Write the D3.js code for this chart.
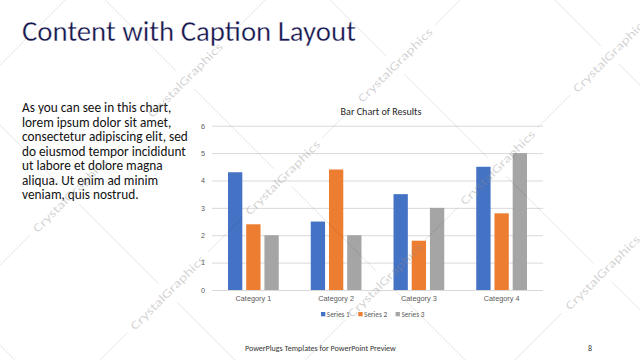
<!DOCTYPE html>
<html>
<head>
<meta charset="utf-8">
<script src="https://cdn.jsdelivr.net/npm/d3@7"></script>
<style>
  html, body { margin: 0; padding: 0; background: #fff; }
  svg { display: block; font-family: Carlito, Lato, "Open Sans", sans-serif; }
</style>
</head>
<body>
<svg id="slide" width="640" height="360"></svg>
<script>
const slideTitle = "Content with Caption Layout";
const captionLines = [
  "As you can see in this chart,",
  "lorem ipsum dolor sit amet,",
  "consectetur adipiscing elit, sed",
  "do eiusmod tempor incididunt",
  "ut labore et dolore magna",
  "aliqua. Ut enim ad minim",
  "veniam, quis nostrud."
];
const chartTitle = "Bar Chart of Results";
const categories = ["Category 1", "Category 2", "Category 3", "Category 4"];
const seriesNames = ["Series 1", "Series 2", "Series 3"];
const series1 = [4.3, 2.5, 3.5, 4.5];
const series2 = [2.4, 4.4, 1.8, 2.8];
const series3 = [2, 2, 3, 5];
const yTicks = [0, 1, 2, 3, 4, 5, 6];
const seriesColors = ["#4472C4", "#ED7D31", "#A5A5A5"];
const footerText = "PowerPlugs Templates for PowerPoint  Preview";
const pageNumber = "8";
const wmText = "CrystalGraphics";

const svg = d3.select("#slide");

// scale font so the text spans the given width
function fitFont(sel, targetWidth) {
  const base = parseFloat(sel.attr("font-size"));
  const w = sel.node().getComputedTextLength();
  const size = base * targetWidth / w;
  sel.attr("font-size", size);
  return size;
}

// ---- slide title (thin white edge to get a light weight look)
const title = svg.append("text")
    .attr("x", 22).attr("y", 41)
    .attr("font-size", 28)
    .attr("font-weight", 300)
    .attr("fill", "#16164f")
    .attr("stroke", "#fff")
    .attr("stroke-width", 0.3)
    .text(slideTitle);
fitFont(title, 334);

// ---- caption text
const caption = svg.append("g");
caption.selectAll("text")
  .data(captionLines)
  .enter()
  .append("text")
    .attr("x", 22)
    .attr("y", (d, i) => 112 + i * 14.5)
    .attr("font-size", 12.5)
    .attr("fill", "#111")
    .text(d => d);
const longest = caption.selectAll("text").filter((d, i) => i === 2);
const capSize = fitFont(longest, 166);
caption.selectAll("text").attr("font-size", capSize);

// ---- chart
const y = d3.scaleLinear().domain([0, 6]).range([290, 125.7]);
const x0 = d3.scaleBand().domain(categories).range([212, 543])
    .paddingInner(0.387).paddingOuter(0.1935);
const x1 = d3.scaleBand().domain(seriesNames).range([0, x0.bandwidth()])
    .paddingInner(0.214);
const colour = d3.scaleOrdinal().domain(seriesNames).range(seriesColors);

const chartG = svg.append("g");

chartG.append("text")
    .attr("class", "ctitle")
    .attr("x", 381).attr("y", 115)
    .attr("text-anchor", "middle")
    .attr("font-size", 12)
    .attr("fill", "#262626")
    .text(chartTitle);
fitFont(chartG.select("text.ctitle"), 81);

const yAxis = chartG.append("g")
    .attr("transform", "translate(212,0)")
    .call(d3.axisLeft(y).tickValues(yTicks).tickSize(-331).tickPadding(7).tickFormat(d3.format("d")));
yAxis.select(".domain").remove();
yAxis.selectAll("line").attr("stroke", "#d9d9d9");
yAxis.selectAll("text").attr("fill", "#595959").attr("font-size", 7.2).attr("font-family", null);

const xAxis = chartG.append("g")
    .attr("transform", "translate(0,290)")
    .call(d3.axisBottom(x0).tickSize(0).tickPadding(5.5));
xAxis.select(".domain").remove();
xAxis.selectAll("text").attr("fill", "#595959").attr("font-size", 7.5).attr("font-family", null);
const catSize = fitFont(xAxis.select("text"), 35.7);
xAxis.selectAll("text").attr("font-size", catSize);

const rows = categories.map((c, i) => ({
  cat: c,
  vals: [series1[i], series2[i], series3[i]]
}));

const groups = chartG.selectAll("g.cat")
  .data(rows)
  .enter()
  .append("g")
    .attr("class", "cat")
    .attr("transform", d => `translate(${x0(d.cat)},0)`);

groups.selectAll("rect")
  .data(d => d.vals.map((v, j) => ({ s: seriesNames[j], v: v })))
  .enter()
  .append("rect")
    .attr("x", d => x1(d.s))
    .attr("y", d => y(d.v))
    .attr("width", x1.bandwidth())
    .attr("height", d => y(0) - y(d.v))
    .attr("fill", d => colour(d.s));

// legend
const legend = chartG.append("g");
let lx = 321;
seriesNames.forEach(s => {
  legend.append("rect")
      .attr("x", lx).attr("y", 312)
      .attr("width", 4.3).attr("height", 4.3)
      .attr("fill", colour(s));
  const t = legend.append("text")
      .attr("x", lx + 5.8).attr("y", 316.8)
      .attr("font-size", catSize)
      .attr("fill", "#595959")
      .text(s);
  lx += 5.8 + t.node().getComputedTextLength() + 8.5;
});

// ---- footer
const foot = svg.append("text")
    .attr("x", 245).attr("y", 350.5)
    .attr("font-size", 7.5)
    .attr("fill", "#333")
    .text(footerText);
fitFont(foot, 151);
svg.append("text")
    .attr("x", 588).attr("y", 350.5)
    .attr("font-size", foot.attr("font-size"))
    .attr("fill", "#333")
    .text(pageNumber);

// ---- watermark: diagonal lattice with text at the crossings
const slashLines = [65, 265, 460, 665, 875];   // x + y
const backLines = [-345, -125, 105, 330, 555];  // x - y
const marks = [];
slashLines.forEach(s => {
  backLines.forEach(b => {
    const cx = (s + b) / 2, cy = (s - b) / 2;
    if (cx > -10 && cx < 650 && cy > 0 && cy < 340) marks.push({ cx, cy, s, b });
  });
});

function gapSegments(xa, xb, gaps) {
  const segs = [];
  let start = xa;
  gaps.sort((a, b) => a[0] - b[0]).forEach(g => {
    if (g[1] < xa || g[0] > xb) return;
    if (g[0] > start) segs.push([start, g[0]]);
    start = Math.max(start, g[1]);
  });
  if (start < xb) segs.push([start, xb]);
  return segs;
}

const wm = svg.append("g").attr("pointer-events", "none");
slashLines.forEach(s => {
  const gaps = marks.filter(m => m.s === s).map(m => [m.cx - 40, m.cx + 40]);
  gapSegments(Math.max(0, s - 360), Math.min(640, s), gaps).forEach(sg => {
    wm.append("line")
        .attr("x1", sg[0]).attr("y1", s - sg[0])
        .attr("x2", sg[1]).attr("y2", s - sg[1])
        .attr("stroke", "#000").attr("stroke-opacity", 0.09);
  });
});
backLines.forEach(b => {
  const gaps = marks.filter(m => m.b === b).map(m => [m.cx - 9, m.cx + 9]);
  gapSegments(Math.max(0, b), Math.min(640, b + 360), gaps).forEach(sg => {
    wm.append("line")
        .attr("x1", sg[0]).attr("y1", sg[0] - b)
        .attr("x2", sg[1]).attr("y2", sg[1] - b)
        .attr("stroke", "#000").attr("stroke-opacity", 0.09);
  });
});
wm.selectAll("text.wm")
  .data(marks)
  .enter()
  .append("text")
    .attr("class", "wm")
    .attr("transform", d => `translate(${d.cx},${d.cy}) rotate(-45)`)
    .attr("text-anchor", "middle")
    .attr("dy", "0.35em")
    .attr("font-size", 12)
    .attr("textLength", 100)
    .attr("lengthAdjust", "spacingAndGlyphs")
    .attr("fill", "#8c8c8c")
    .attr("fill-opacity", 0.38)
    .text(wmText);
</script>
</body>
</html>
